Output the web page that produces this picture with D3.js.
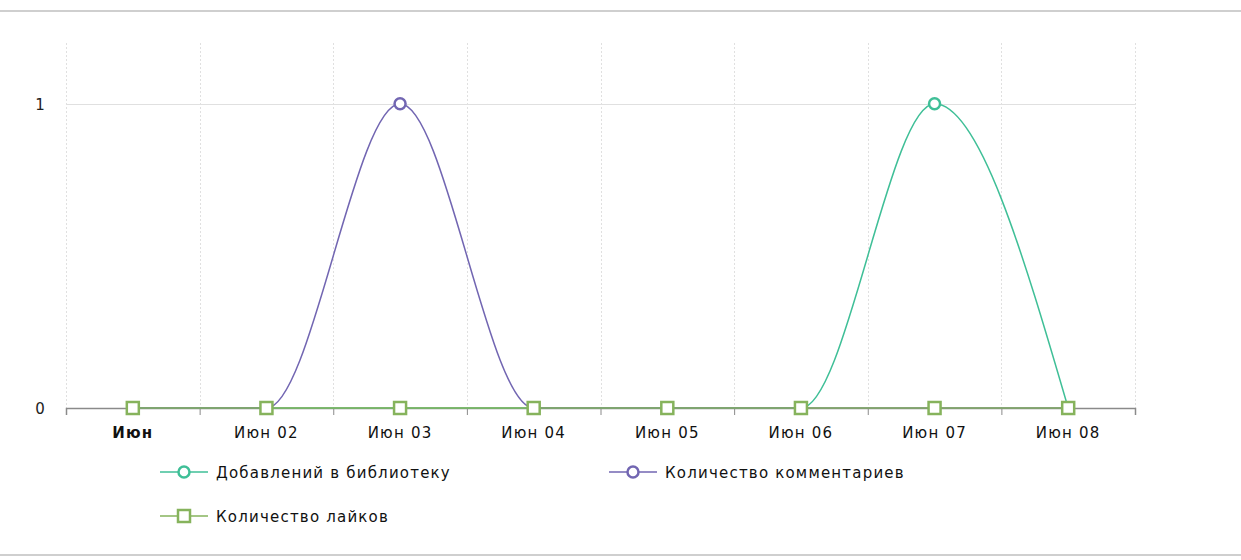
<!DOCTYPE html>
<html><head><meta charset="utf-8">
<script src="https://cdn.jsdelivr.net/npm/d3@7"></script>
<style>
body{margin:0;background:#fff;}
svg{display:block;font-family:"DejaVu Sans",Verdana,sans-serif;}
svg text{letter-spacing:1.2px;}
</style></head>
<body><div id="chart"></div>
<script>
const categories = ["Июн", "Июн 02", "Июн 03", "Июн 04", "Июн 05", "Июн 06", "Июн 07", "Июн 08"];
const seriesNames = ["Добавлений в библиотеку", "Количество комментариев", "Количество лайков"];
const library = [0, 0, 0, 0, 0, 0, 1, 0];
const comments = [0, 0, 1, 0, 0, 0, 0, 0];
const likes = [0, 0, 0, 0, 0, 0, 0, 0];
const yTicks = [0, 1];

(function(){
const W = 1241, H = 560;
const svg = d3.select("#chart").append("svg").attr("width", W).attr("height", H);

svg.append("rect").attr("x",0).attr("y",10).attr("width",W).attr("height",2).attr("fill","#cfcfcf");
svg.append("rect").attr("x",0).attr("y",554).attr("width",W).attr("height",2).attr("fill","#cfcfcf");

const pLeft = 66, pRight = 1135, pTop = 43, pBottom = 408;
const x = d3.scaleLinear().domain([-0.5, categories.length - 0.5]).range([pLeft, pRight]);
const y = d3.scaleLinear().domain([0, 1.2]).range([pBottom, pTop]);

const bounds = d3.range(-0.5, categories.length, 1);
svg.append("g").selectAll("line").data(bounds).join("line")
  .attr("x1", d => Math.round(x(d)) + 0.5).attr("x2", d => Math.round(x(d)) + 0.5)
  .attr("y1", pTop).attr("y2", pBottom)
  .attr("stroke", "#e0e0e0").attr("stroke-dasharray", "2,2").attr("stroke-width", 1);

svg.append("g").selectAll("line").data(yTicks.filter(d => d > 0)).join("line")
  .attr("x1", pLeft).attr("x2", pRight)
  .attr("y1", d => Math.round(y(d)) + 0.5).attr("y2", d => Math.round(y(d)) + 0.5)
  .attr("stroke", "#e0e0e0").attr("stroke-width", 1);

svg.append("g").selectAll("text").data(yTicks).join("text")
  .attr("x", 46).attr("y", d => y(d) + 6).attr("text-anchor", "end")
  .attr("font-size", 15).attr("fill", "#222").text(d => d);

const xAxis = d3.axisBottom(x).tickValues(bounds).tickSize(7).tickFormat("");
const gx = svg.append("g").attr("transform", `translate(0,${pBottom})`).call(xAxis);
gx.select(".domain").attr("stroke", "#8a8a8a").attr("stroke-width", 1.5);
gx.selectAll(".tick line").attr("stroke", "#8a8a8a");

svg.append("g").selectAll("text").data(categories).join("text")
  .attr("x", (d, i) => x(i)).attr("y", 438).attr("text-anchor", "middle")
  .attr("font-size", 15).attr("fill", "#111")
  .attr("font-weight", (d, i) => i === 0 ? "bold" : "normal")
  .text(d => d);

const line = d3.line().x((d, i) => x(i)).y(d => y(d)).curve(d3.curveMonotoneX);

const series = [
  {name: seriesNames[0], data: library, color: "#3fbf97", shape: "circle"},
  {name: seriesNames[1], data: comments, color: "#7266b2", shape: "circle"},
  {name: seriesNames[2], data: likes, color: "#86b35c", shape: "square"}
];

series.forEach(s => {
  svg.append("path").datum(s.data).attr("d", line)
    .attr("fill", "none").attr("stroke", s.color).attr("stroke-width", 1.5);
});
series.forEach(s => {
  const g = svg.append("g");
  if (s.shape === "circle") {
    g.selectAll("circle").data(s.data).join("circle")
      .attr("cx", (d, i) => x(i)).attr("cy", d => y(d)).attr("r", 5.5)
      .attr("fill", "#fff").attr("stroke", s.color).attr("stroke-width", 2.5);
  } else {
    g.selectAll("rect").data(s.data).join("rect")
      .attr("x", (d, i) => x(i) - 6).attr("y", d => y(d) - 6)
      .attr("width", 12).attr("height", 12)
      .attr("fill", "#fff").attr("stroke", s.color).attr("stroke-width", 2.5);
  }
});

const legendPos = [[160, 472], [609, 472], [160, 516]];
series.forEach((s, i) => {
  const [lx, ly] = legendPos[i];
  const g = svg.append("g").attr("transform", `translate(${lx},${ly})`);
  g.append("line").attr("x1", 0).attr("x2", 48).attr("y1", 0).attr("y2", 0)
    .attr("stroke", s.color).attr("stroke-width", 1.5);
  if (s.shape === "circle") {
    g.append("circle").attr("cx", 24).attr("cy", 0).attr("r", 5.5)
      .attr("fill", "#fff").attr("stroke", s.color).attr("stroke-width", 2.5);
  } else {
    g.append("rect").attr("x", 18).attr("y", -6).attr("width", 12).attr("height", 12)
      .attr("fill", "#fff").attr("stroke", s.color).attr("stroke-width", 2.5);
  }
  g.append("text").attr("x", 56).attr("y", 6).attr("font-size", 15)
    .attr("fill", "#111").text(s.name);
});
})();
</script></body></html>
